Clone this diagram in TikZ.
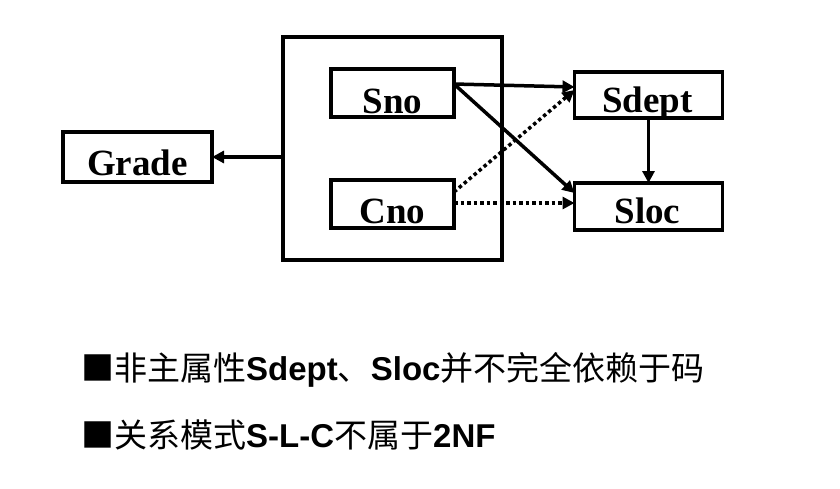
\documentclass[tikz,border=0pt]{standalone}
\usepackage{fontspec}
\setmainfont{Liberation Serif}
\newfontfamily\cjk{Noto Sans CJK SC}
\newfontfamily\ari{Liberation Sans}
\usetikzlibrary{arrows.meta}
\begin{document}
\begin{tikzpicture}[x=1pt,y=-1pt,
  box/.style={draw,line width=3.8pt,inner sep=0pt,outer sep=0pt},
  lbl/.style={anchor=base,inner sep=0pt,font=\fontsize{37}{40}\selectfont\bfseries},
  conn/.style={line width=3.5pt,-{Triangle[length=12pt,width=12pt]}},
  dotc/.style={conn,dash pattern=on 3.5pt off 3pt},
  txt/.style={anchor=base west,inner sep=0pt,font=\fontsize{33}{36}\selectfont}]
\useasboundingbox (0,0) rectangle (840,488);
% boxes
\node[box,minimum width=219pt,minimum height=223pt] (Big) at (392.5,148.5) {};
\node[box,minimum width=149pt,minimum height=50pt] (Grade) at (137.5,157) {};
\node[box,minimum width=123pt,minimum height=48pt] (Sno) at (392.5,93) {};
\node[box,minimum width=123pt,minimum height=48pt] (Cno) at (392.5,204) {};
\node[box,minimum width=148pt,minimum height=46pt] (Sdept) at (648.5,95) {};
\node[box,minimum width=148pt,minimum height=47pt] (Sloc) at (648.5,206.5) {};
% labels
\node[lbl] (GradeT) at (137.5,175) {Grade};
\node[lbl] (SnoT) at (392.5,113) {Sno};
\node[lbl] (CnoT) at (392.5,223) {Cno};
\node[lbl] (SdeptT) at (647.5,112) {Sdept};
\node[lbl] (SlocT) at (647.5,223) {Sloc};
% connectors
\draw[conn] ([yshift=-8.5pt]Big.west) -- (Grade.east);
\draw[conn] ([yshift=9pt]Sno.east) -- ([yshift=8pt]Sdept.west);
\draw[conn] ([yshift=9pt]Sno.east) -- ([yshift=13.5pt]Sloc.west);
\draw[dotc] ([yshift=12pt]Cno.east) -- ([yshift=5pt]Sdept.west);
\draw[dotc] ([yshift=1pt]Cno.east) -- ([yshift=3.5pt]Sloc.west);
\draw[conn] (Sdept.south) -- (Sloc.north);
% bottom text
\node[txt] (L1) at (81,380) {{\cjk ■非主属性}{\ari\bfseries Sdept}{\cjk 、}{\ari\bfseries Sloc}{\cjk 并不完全依赖于码}};
\node[txt] (L2) at (81,447) {{\cjk ■关系模式}{\ari\bfseries S-L-C}{\cjk 不属于}{\ari\bfseries 2NF}};
\end{tikzpicture}
\end{document}
